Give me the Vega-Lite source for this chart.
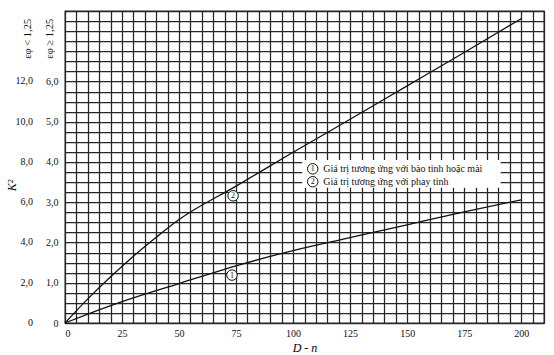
{
  "$schema": "https://vega.github.io/schema/vega-lite/v6.json",
  "width": 479,
  "height": 312,
  "autosize": {"type": "none"},
  "padding": {"left": 65, "top": 11, "right": 10, "bottom": 32},
  "background": "white",
  "config": {
    "view": {"stroke": "#222", "strokeWidth": 1.3},
    "font": "Liberation Serif"
  },
  "datasets": {
    "curves": [
      {"D": 0, "K": 0, "curve": "1"},
      {"D": 10, "K": 0.22, "curve": "1"},
      {"D": 25, "K": 0.53, "curve": "1"},
      {"D": 50, "K": 0.98, "curve": "1"},
      {"D": 75, "K": 1.42, "curve": "1"},
      {"D": 100, "K": 1.8, "curve": "1"},
      {"D": 125, "K": 2.12, "curve": "1"},
      {"D": 150, "K": 2.44, "curve": "1"},
      {"D": 175, "K": 2.76, "curve": "1"},
      {"D": 200, "K": 3.06, "curve": "1"},
      {"D": 0, "K": 0, "curve": "2"},
      {"D": 10, "K": 0.6, "curve": "2"},
      {"D": 20, "K": 1.15, "curve": "2"},
      {"D": 30, "K": 1.66, "curve": "2"},
      {"D": 40, "K": 2.13, "curve": "2"},
      {"D": 50, "K": 2.57, "curve": "2"},
      {"D": 75, "K": 3.4, "curve": "2"},
      {"D": 100, "K": 4.24, "curve": "2"},
      {"D": 125, "K": 5.06, "curve": "2"},
      {"D": 150, "K": 5.89, "curve": "2"},
      {"D": 175, "K": 6.72, "curve": "2"},
      {"D": 200, "K": 7.56, "curve": "2"}
    ],
    "box": [{"x1": 104, "x2": 191, "y1": 3.36, "y2": 4.05}],
    "markers": [
      {"D": 73.2, "K": 1.19, "num": "1"},
      {"D": 73.7, "K": 3.16, "num": "2"},
      {"D": 108.6, "K": 3.83, "num": "1"},
      {"D": 108.6, "K": 3.51, "num": "2"}
    ],
    "legendText": [
      {"D": 113.2, "K": 3.83, "text": "Giá trị tương ứng với bào tinh hoặc mài"},
      {"D": 113.2, "K": 3.51, "text": "Giá trị tương ứng với phay tinh"}
    ],
    "headers": [
      {"D": -16.2, "K": 7.06, "text": "εφ < 1,25"},
      {"D": -6.6, "K": 7.06, "text": "εφ ≥ 1,25"}
    ],
    "leftScale": [
      {"D": -14, "K": 0, "label": "0"},
      {"D": -14, "K": 1, "label": "2,0"},
      {"D": -14, "K": 2, "label": "4,0"},
      {"D": -14, "K": 3, "label": "6,0"},
      {"D": -14, "K": 4, "label": "8,0"},
      {"D": -14, "K": 5, "label": "10,0"},
      {"D": -14, "K": 6, "label": "12,0"}
    ]
  },
  "encoding": {
    "x": {
      "field": "D", "type": "quantitative",
      "scale": {"domain": [0, 210], "nice": false, "zero": false},
      "axis": {
        "title": "D - n",
        "titleFontStyle": "italic", "titleFontWeight": "normal", "titleFontSize": 12,
        "titleFont": "Liberation Serif", "titlePadding": 4,
        "values": [0,5,10,15,20,25,30,35,40,45,50,55,60,65,70,75,80,85,90,95,100,105,110,115,120,125,130,135,140,145,150,155,160,165,170,175,180,185,190,195,200,205,210],
        "labelExpr": "datum.value % 25 == 0 && datum.value <= 200 ? datum.label : ''",
        "labelFont": "Liberation Serif", "labelFontSize": 10, "labelColor": "#111",
        "labelPadding": 5, "ticks": false, "domain": false,
        "grid": true, "gridColor": "#262626", "gridWidth": 1.25, "gridOpacity": 1
      }
    },
    "y": {
      "field": "K", "type": "quantitative",
      "scale": {"domain": [0, 7.75], "nice": false, "zero": false},
      "axis": {
        "title": "K²",
        "titleFontStyle": "italic", "titleFontWeight": "normal", "titleFontSize": 12,
        "titleFont": "Liberation Serif", "titleX": -47, "titleY": 174,
        "values": [0,0.25,0.5,0.75,1,1.25,1.5,1.75,2,2.25,2.5,2.75,3,3.25,3.5,3.75,4,4.25,4.5,4.75,5,5.25,5.5,5.75,6,6.25,6.5,6.75,7,7.25,7.5,7.75],
        "labelExpr": "(datum.value % 1 != 0 || datum.value > 6.5) ? '' : (datum.value < 0.5 ? '0' : replace(format(datum.value, '.1f'), '.', ','))",
        "labelFont": "Liberation Serif", "labelFontSize": 10, "labelColor": "#111",
        "labelPadding": 7, "ticks": false, "domain": false,
        "grid": true, "gridColor": "#262626", "gridWidth": 1.25, "gridOpacity": 1
      }
    }
  },
  "layer": [
    {
      "data": {"name": "box"},
      "mark": {"type": "rect", "fill": "white", "stroke": null},
      "encoding": {
        "x": {"field": "x1", "type": "quantitative"},
        "x2": {"field": "x2"},
        "y": {"field": "y1", "type": "quantitative"},
        "y2": {"field": "y2"}
      }
    },
    {
      "data": {"name": "curves"},
      "mark": {"type": "line", "color": "#111", "strokeWidth": 1.3, "interpolate": "monotone"},
      "encoding": {"detail": {"field": "curve"}}
    },
    {
      "data": {"name": "markers"},
      "mark": {"type": "point", "shape": "circle", "size": 110, "filled": true, "fill": "white", "stroke": "#111", "strokeWidth": 1, "opacity": 1},
      "encoding": {}
    },
    {
      "data": {"name": "markers"},
      "mark": {"type": "text", "fontSize": 8, "font": "Liberation Serif", "color": "#111", "baseline": "middle", "align": "center", "dy": 0.5},
      "encoding": {"text": {"field": "num"}}
    },
    {
      "data": {"name": "legendText"},
      "mark": {"type": "text", "fontSize": 10, "font": "Liberation Serif", "color": "#111", "baseline": "middle", "align": "left"},
      "encoding": {"text": {"field": "text"}}
    },
    {
      "data": {"name": "headers"},
      "mark": {"type": "text", "fontSize": 10.5, "font": "Liberation Serif", "color": "#111", "baseline": "middle", "align": "center", "angle": 270, "clip": false},
      "encoding": {"text": {"field": "text"}}
    },
    {
      "data": {"name": "leftScale"},
      "mark": {"type": "text", "fontSize": 10, "font": "Liberation Serif", "color": "#111", "baseline": "middle", "align": "right", "clip": false},
      "encoding": {"text": {"field": "label"}}
    }
  ]
}
